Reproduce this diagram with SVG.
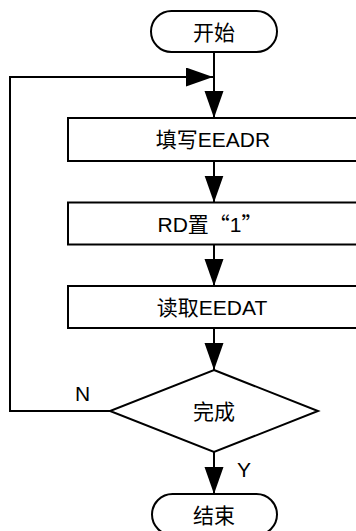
<svg xmlns="http://www.w3.org/2000/svg" width="356" height="531" viewBox="0 0 356 531">
<style>
.s{fill:#fff;stroke:#000;stroke-width:2}
.c{fill:none;stroke:#000;stroke-width:2}
text{font-family:"Liberation Sans","Noto Sans CJK SC",sans-serif;font-size:21px;fill:#000}
.m{text-anchor:middle}
.q{font-family:"Noto Sans CJK SC",sans-serif}
</style>
<defs>
<marker id="a" markerUnits="userSpaceOnUse" markerWidth="28" markerHeight="20" refX="27" refY="9.5" orient="auto">
<path d="M0,0 L27,9.5 L0,19 z" fill="#000"/>
</marker>
</defs>
<rect width="356" height="531" fill="#fff"/>
<g id="connectors">
<line class="c" x1="214" y1="52" x2="214" y2="118" marker-end="url(#a)"/>
<polyline class="c" points="110,411 10,411 10,77 213,77" marker-end="url(#a)"/>
<line class="c" x1="214" y1="161" x2="214" y2="202.5" marker-end="url(#a)"/>
<line class="c" x1="214" y1="244.5" x2="214" y2="286" marker-end="url(#a)"/>
<line class="c" x1="214" y1="328" x2="214" y2="370" marker-end="url(#a)"/>
<line class="c" x1="214" y1="452" x2="214" y2="494" marker-end="url(#a)"/>
<text x="75" y="401">N</text>
<text x="237" y="477">Y</text>
</g>
<g id="start">
<rect class="s" x="151" y="11" width="126" height="41" rx="20.5"/>
<text class="m" x="214" y="40">开始</text>
</g>
<g id="step1">
<rect class="s" x="68" y="118" width="292" height="43"/>
<text class="m" x="213" y="147">填写EEADR</text>
</g>
<g id="step2">
<rect class="s" x="68" y="202.5" width="292" height="42"/>
<text class="m" x="210" y="231.5">RD置<tspan class="q">“</tspan>1<tspan class="q">”</tspan></text>
</g>
<g id="step3">
<rect class="s" x="68" y="286" width="292" height="42"/>
<text class="m" x="212" y="315">读取EEDAT</text>
</g>
<g id="decision">
<polygon class="s" points="214,370 318,411 214,452 110,411"/>
<text class="m" x="214" y="419">完成</text>
</g>
<g id="end">
<rect class="s" x="152" y="494" width="125" height="41" rx="20.5"/>
<text class="m" x="214" y="523">结束</text>
</g>
</svg>
